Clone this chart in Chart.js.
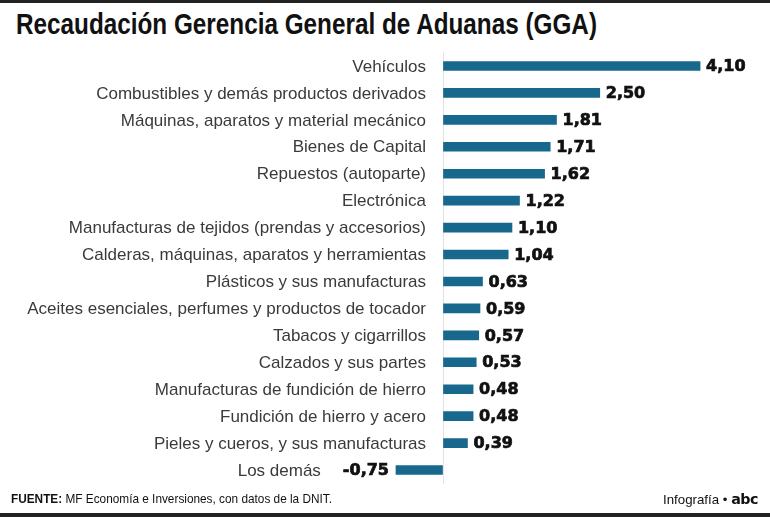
<!DOCTYPE html>
<html>
<head>
<meta charset="utf-8">
<script src="https://cdn.jsdelivr.net/npm/chart.js@4"></script>
<style>
  html, body { margin: 0; padding: 0; background: #fff; }
  #wrap { position: relative; width: 770px; height: 517px; overflow: hidden; }
  #topbar { position: absolute; left: 0; top: 0; width: 770px; height: 3px; background: #222; }
  #botbar { position: absolute; left: 0; top: 513px; width: 770px; height: 4px; background: #222; }
  .fit { position: absolute; white-space: nowrap; transform-origin: 0 0; color: #111;
         font-family: 'Liberation Sans', Arial, sans-serif; }
  #title { left: 16px; top: 7px; font-weight: bold; font-size: 30px; }
  #source { left: 11px; top: 491px; font-size: 13px; }
  #credit { left: 663px; top: 491px; font-size: 13px; }
  #credit b { font-family: 'DejaVu Sans', sans-serif; font-weight: 900; font-size: 14px; letter-spacing: -0.5px; }
  canvas { position: absolute; left: 0; top: 0; }
</style>
</head>
<body>
<div id="wrap">
  <div id="topbar"></div>
  <div id="title" class="fit" data-w="581">Recaudación Gerencia General de Aduanas (GGA)</div>
  <canvas id="chart" width="770" height="517"></canvas>
  <div id="source" class="fit" data-w="321"><b>FUENTE:</b> MF Economía e Inversiones, con datos de la DNIT.</div>
  <div id="credit" class="fit" data-w="95">Infografía • <b>abc</b></div>
  <div id="botbar"></div>
</div>
<script>
// --- data ---
const categories = [
  'Vehículos',
  'Combustibles y demás productos derivados',
  'Máquinas, aparatos y material mecánico',
  'Bienes de Capital',
  'Repuestos (autoparte)',
  'Electrónica',
  'Manufacturas de tejidos (prendas y accesorios)',
  'Calderas, máquinas, aparatos y herramientas',
  'Plásticos y sus manufacturas',
  'Aceites esenciales, perfumes y productos de tocador',
  'Tabacos y cigarrillos',
  'Calzados y sus partes',
  'Manufacturas de fundición de hierro',
  'Fundición de hierro y acero',
  'Pieles y cueros, y sus manufacturas',
  'Los demás'
];
const values = [4.10, 2.50, 1.81, 1.71, 1.62, 1.22, 1.10, 1.04, 0.63, 0.59, 0.57, 0.53, 0.48, 0.48, 0.39, -0.75];

const BAR_COLOR = '#17688c';
const fmt = v => v.toFixed(2).replace('.', ',');

// squeeze header/footer text into condensed width (no narrow font installed)
document.querySelectorAll('.fit').forEach(el => {
  const w = el.getBoundingClientRect().width;
  el.style.transform = 'scaleX(' + (Number(el.dataset.w) / w) + ')';
});

// value labels and category names next to each bar
const labelPlugin = {
  id: 'barLabels',
  afterDatasetsDraw(chart) {
    const ctx = chart.ctx;
    const meta = chart.getDatasetMeta(0);
    const zeroX = chart.scales.x.getPixelForValue(0);
    ctx.save();
    ctx.textBaseline = 'middle';
    meta.data.forEach((bar, i) => {
      const v = values[i];
      const y = bar.y + 1;
      ctx.font = 'bold 16px "DejaVu Sans", sans-serif';
      ctx.fillStyle = '#111';
      ctx.strokeStyle = '#111';
      ctx.lineWidth = 0.7;
      let catRight;
      const t = fmt(v);
      if (v >= 0) {
        ctx.textAlign = 'left';
        ctx.fillText(t, bar.x + 6, y);
        ctx.strokeText(t, bar.x + 6, y);
        catRight = zeroX - 17;
      } else {
        ctx.textAlign = 'right';
        ctx.fillText(t, bar.x - 7, y);
        ctx.strokeText(t, bar.x - 7, y);
        catRight = bar.x - 7 - ctx.measureText(t).width - 22;
      }
      ctx.font = '17px "Liberation Sans", Arial, sans-serif';
      ctx.fillStyle = '#3a3a3a';
      ctx.textAlign = 'right';
      ctx.fillText(categories[i], catRight, y);
    });
    ctx.restore();
  }
};

new Chart(document.getElementById('chart'), {
  type: 'bar',
  data: {
    labels: categories,
    datasets: [{
      data: values,
      backgroundColor: BAR_COLOR,
      borderWidth: 0,
      barThickness: 9
    }]
  },
  options: {
    indexAxis: 'y',
    responsive: false,
    animation: false,
    layout: { padding: { top: 52.5, bottom: 33.5, left: 0, right: 0 } },
    plugins: { legend: { display: false }, tooltip: { enabled: false } },
    scales: {
      x: {
        min: -7.065, max: 5.215,
        grid: {
          drawTicks: false,
          color: c => (c.tick && c.tick.value === 0) ? '#e2e2e2' : 'rgba(0,0,0,0)'
        },
        border: { display: false },
        ticks: { display: false, stepSize: 1 }
      },
      y: { display: false }
    }
  },
  plugins: [labelPlugin]
});
</script>
</body>
</html>
